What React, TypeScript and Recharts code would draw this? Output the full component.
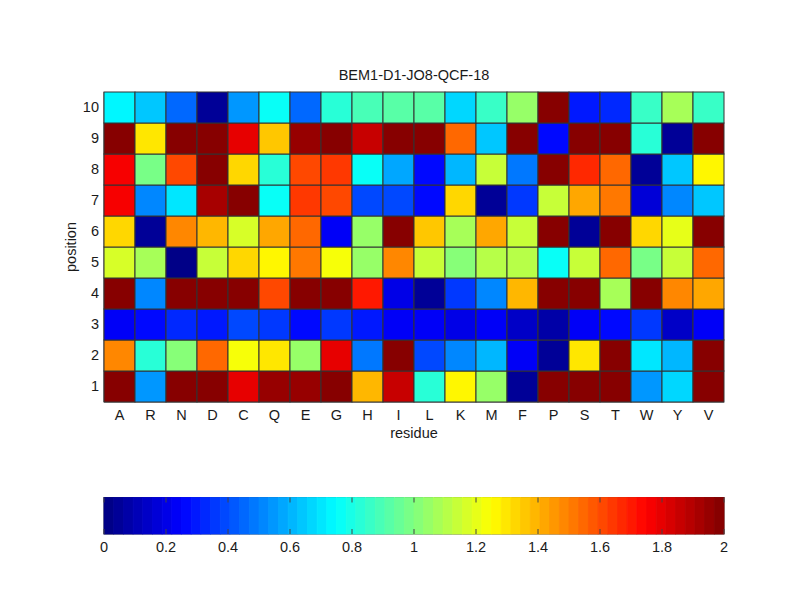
import React from "react";
import { ScatterChart, Scatter, XAxis, YAxis } from "recharts";

const residues = ["A","R","N","D","C","Q","E","G","H","I","L","K","M","F","P","S","T","W","Y","V"];
const positions = [1,2,3,4,5,6,7,8,9,10];
const pos1 = [1.97,0.55,1.97,1.97,1.8,1.96,1.96,1.97,1.4,1.85,0.83,1.25,1.05,0.04,1.97,1.97,1.97,0.55,0.68,1.97];
const pos2 = [1.47,0.83,1.02,1.55,1.22,1.3,1.05,1.8,0.47,1.97,0.4,0.52,0.6,0.24,0.06,1.3,1.97,0.7,0.6,1.97];
const pos3 = [0.22,0.27,0.33,0.31,0.38,0.35,0.28,0.37,0.31,0.24,0.22,0.2,0.24,0.15,0.08,0.23,0.27,0.35,0.15,0.24];
const pos4 = [1.98,0.52,1.97,1.97,1.97,1.62,1.97,1.97,1.7,0.2,0.04,0.37,0.52,1.4,1.97,1.97,1.08,1.97,1.47,1.42];
const pos5 = [1.18,1.08,0.03,1.13,1.32,1.25,1.53,1.22,1.05,1.47,1.13,1.0,1.1,1.1,0.76,1.15,1.54,0.97,1.15,1.55];
const pos6 = [1.33,0.05,1.47,1.39,1.18,1.42,1.55,0.22,1.05,1.98,1.35,1.08,1.42,1.15,1.97,0.05,1.97,1.33,1.2,1.97];
const pos7 = [1.75,0.52,0.7,1.92,1.98,0.75,1.65,1.6,0.4,0.4,0.28,1.33,0.04,0.37,1.13,1.42,1.5,0.18,0.52,0.65];
const pos8 = [1.75,0.97,1.6,1.97,1.33,0.84,1.6,1.65,0.75,0.57,0.28,0.6,1.13,0.47,1.97,1.66,1.56,0.06,0.63,1.28];
const pos9 = [2.0,1.3,1.97,1.97,1.8,1.35,1.95,1.97,1.85,1.98,1.98,1.55,0.63,1.98,0.25,1.97,1.97,0.82,0.05,1.97];
const pos10 = [0.74,0.65,0.45,0.05,0.55,0.76,0.45,0.84,0.88,0.93,0.93,0.68,0.86,1.06,2.0,0.3,0.32,0.86,1.08,0.86];
const rows = [pos1,pos2,pos3,pos4,pos5,pos6,pos7,pos8,pos9,pos10];
const colorbarTicks = [0,0.2,0.4,0.6,0.8,1,1.2,1.4,1.6,1.8,2];

const cells = rows.flatMap((row, r) =>
  row.map((v, c) => ({ x: c + 1, y: positions[r], v }))
);

const LEVELS = 64;
const VMAX = 2;
const clamp = (n: number) => Math.max(0, Math.min(1, n));
function jet(v: number) {
  const idx = Math.min(LEVELS - 1, Math.floor((v / VMAX) * LEVELS));
  const t = (idx + 0.5) / LEVELS;
  const r = clamp(Math.min(4 * t - 1.5, -4 * t + 4.5));
  const g = clamp(Math.min(4 * t - 0.5, -4 * t + 3.5));
  const b = clamp(Math.min(4 * t + 0.5, -4 * t + 2.5));
  return `rgb(${Math.round(r * 255)},${Math.round(g * 255)},${Math.round(b * 255)})`;
}

const PLOT_W = 620;
const PLOT_H = 310;
const BAR_H = 36.5;
const CELL_W = PLOT_W / residues.length;
const CELL_H = PLOT_H / positions.length;
const font = "'Liberation Sans', Arial, sans-serif";
const textColor = "#1a1a1a";
const tickStyle = { fontSize: 14.5, fontFamily: font, fill: textColor };

const colorLevels = Array.from({ length: LEVELS }, (_, i) => ({
  x: ((i + 0.5) / LEVELS) * VMAX,
  y: 0.5,
}));

const HeatCell = (props: any) => (
  <rect
    x={props.cx - CELL_W / 2}
    y={props.cy - CELL_H / 2}
    width={CELL_W}
    height={CELL_H}
    fill={jet(props.payload.v)}
    stroke="#333"
    strokeWidth={1}
  />
);

const LevelCell = (props: any) => {
  const w = PLOT_W / LEVELS;
  const color = jet(props.payload.x);
  return (
    <rect
      x={props.cx - w / 2}
      y={props.cy - BAR_H / 2}
      width={w}
      height={BAR_H}
      fill={color}
      stroke={color}
      strokeWidth={0.8}
    />
  );
};

const ColorbarTick = (props: any) => {
  const { x, y, payload } = props;
  const base = y - 8;
  return (
    <g>
      <line x1={x} x2={x} y1={base - 5} y2={base} stroke="#444" />
      <line x1={x} x2={x} y1={base - BAR_H} y2={base - BAR_H + 5} stroke="#444" />
      <text x={x} y={base + 18} textAnchor="middle" style={tickStyle}>
        {String(payload.value)}
      </text>
    </g>
  );
};

export default function App() {
  return (
    <div style={{ position: "absolute", left: 0, top: 0, width: 800, height: 600, background: "#fff" }}>
      <div style={{ position: "absolute", left: 0, top: 0 }}>
        <ScatterChart width={800} height={460} margin={{ left: 74, right: 76, top: 92, bottom: 28 }}>
          <XAxis
            type="number"
            dataKey="x"
            domain={[0.5, 20.5]}
            ticks={residues.map((_, i) => i + 1)}
            interval={0}
            tickFormatter={(i: number) => residues[i - 1]}
            tickLine={false}
            axisLine={{ stroke: "#444" }}
            height={30}
            tick={tickStyle}
            tickMargin={2}
            label={{ value: "residue", position: "insideBottom", offset: -6, style: { ...tickStyle, textAnchor: "middle" } }}
          />
          <YAxis
            type="number"
            dataKey="y"
            domain={[0.5, 10.5]}
            ticks={positions}
            interval={0}
            tickLine={false}
            axisLine={{ stroke: "#444" }}
            width={30}
            tick={{ ...tickStyle, dx: 1, dy: -1 }}
            tickMargin={0}
            label={{ value: "position", angle: -90, position: "insideLeft", offset: -3, style: { ...tickStyle, textAnchor: "middle" } }}
          />
          <Scatter data={cells} shape={HeatCell} isAnimationActive={false} />
          <text x={414} y={80} textAnchor="middle" style={tickStyle}>BEM1-D1-JO8-QCF-18</text>
        </ScatterChart>
      </div>
      <div style={{ position: "absolute", left: 0, top: 480 }}>
        <ScatterChart width={800} height={100} margin={{ left: 104, right: 76, top: 17.5, bottom: 16 }}>
          <XAxis
            type="number"
            dataKey="x"
            domain={[0, VMAX]}
            ticks={colorbarTicks}
            interval={0}
            tickLine={false}
            axisLine={false}
            height={30}
            tick={<ColorbarTick />}
          />
          <YAxis type="number" dataKey="y" domain={[0, 1]} hide />
          <Scatter data={colorLevels} shape={LevelCell} isAnimationActive={false} />
          <rect x={104} y={17.5} width={PLOT_W} height={BAR_H} fill="none" stroke="#444" />
        </ScatterChart>
      </div>
    </div>
  );
}
